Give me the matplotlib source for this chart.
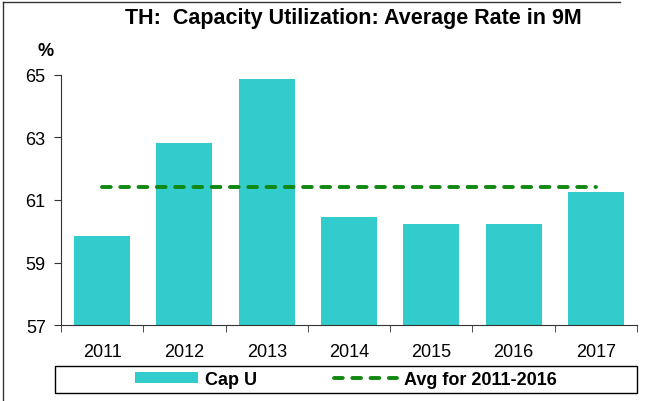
import matplotlib.pyplot as plt
import numpy as np
from matplotlib.lines import Line2D
from matplotlib.patches import Rectangle

plt.rcParams['font.family'] = ['Liberation Sans', 'DejaVu Sans']

years = ["2011", "2012", "2013", "2014", "2015", "2016", "2017"]
cap_u = [59.85, 62.82, 64.87, 60.46, 60.23, 60.23, 61.25]
avg_2011_2016 = [61.41] * 7

fig = plt.figure(figsize=(6.49, 4.02), dpi=100)
ax = fig.add_axes([0.094, 0.189, 0.8875, 0.622])

x = np.arange(len(years))
bars = ax.bar(x, np.array(cap_u) - 57, bottom=57, width=0.68, color="#33CCCC", label="Cap U")
avg_line, = ax.plot(x, avg_2011_2016, color="#118811", linestyle=(0, (2.25, 2.45)), linewidth=2.8,
                    dash_capstyle="round", label="Avg for 2011-2016")

ax.set_ylim(57, 65)
ax.set_yticks([57, 59, 61, 63, 65])
ax.set_xlim(-0.5, 6.5)
ax.set_xticks(x)
ax.set_xticklabels(years)
ax.set_xticks(np.arange(-0.5, 7, 1), minor=True)
ax.tick_params(axis="x", which="major", length=0, pad=13, labelsize=13)
ax.tick_params(axis="x", which="minor", length=5, direction="out", color="#333333")
ax.tick_params(axis="y", length=5, labelsize=13, color="#333333", pad=6)
for s in ["top", "right"]:
    ax.spines[s].set_visible(False)
for s in ["left", "bottom"]:
    ax.spines[s].set_color("#333333")

fig.text(0.545, 0.955, "TH:  Capacity Utilization: Average Rate in 9M",
         ha="center", va="center", fontsize=15.5, fontweight="bold")
fig.text(0.07, 0.872, "%", ha="center", va="center", fontsize=13, fontweight="bold")

# legend box across the bottom
fig.add_artist(Rectangle((55 / 649, 1 - 394 / 402), 582 / 649, 27 / 402,
                         transform=fig.transFigure, fill=False, edgecolor="black", linewidth=1))
leg = fig.legend([bars, avg_line], ["Cap U", "Avg for 2011-2016"],
                 loc="center", bbox_to_anchor=(346 / 649, 1 - 380.5 / 402),
                 ncol=2, frameon=False, prop={"weight": "bold", "size": 13},
                 handlelength=3.45, handleheight=0.6, handletextpad=0.4,
                 columnspacing=4.3, borderpad=0, borderaxespad=0)

# frame of the original picture (left and top edges)
fig.add_artist(Line2D([3 / 649, 3 / 649], [0, 1 - 3 / 402], color="#333333", linewidth=1))
fig.add_artist(Line2D([3 / 649, 620 / 649], [1 - 3 / 402, 1 - 3 / 402], color="#333333", linewidth=1))

fig.savefig("out.png", dpi=100)
